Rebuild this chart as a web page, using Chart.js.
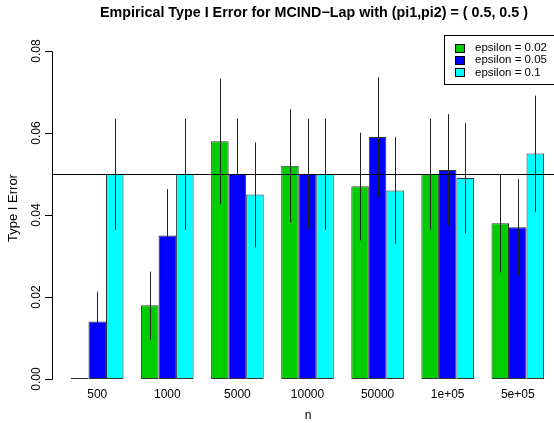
<!DOCTYPE html>
<html>
<head>
<meta charset="utf-8">
<script src="https://cdn.jsdelivr.net/npm/chart.js@4.4.1/dist/chart.umd.min.js"></script>
<style>
  html, body { margin: 0; padding: 0; background: #fff; }
  #wrap { width: 554px; height: 423px; position: relative; }
</style>
</head>
<body>
<div id="wrap"><canvas id="bars"></canvas></div>
<script>
const categories = ["500", "1000", "5000", "10000", "50000", "1e+05", "5e+05"];
const seriesNames = ["epsilon = 0.02", "epsilon = 0.05", "epsilon = 0.1"];

// estimated type I error per sample size
const eps002 = [0.000, 0.018, 0.058, 0.052, 0.047, 0.050, 0.038];
const eps005 = [0.014, 0.035, 0.050, 0.050, 0.059, 0.051, 0.037];
const eps01  = [0.050, 0.050, 0.045, 0.050, 0.046, 0.049, 0.055];

// confidence interval ends
const low002 = [0.000, 0.0096, 0.0427, 0.0382, 0.0338, 0.0364, 0.0260];
const up002  = [0.000, 0.0262, 0.0733, 0.0658, 0.0601, 0.0635, 0.0500];
const low005 = [0.0067, 0.0235, 0.0364, 0.0364, 0.0443, 0.0374, 0.0252];
const up005  = [0.0213, 0.0463, 0.0635, 0.0635, 0.0736, 0.0646, 0.0487];
const low01  = [0.0364, 0.0364, 0.0321, 0.0364, 0.0329, 0.0355, 0.0407];
const up01   = [0.0635, 0.0635, 0.0577, 0.0635, 0.0590, 0.0624, 0.0691];

const nominal = 0.05;
const yTicks = [0, 0.02, 0.04, 0.06, 0.08];
const yTickLabels = ["0.00", "0.02", "0.04", "0.06", "0.08"];

const colors = ["#00cd00", "#0000ff", "#00ffff"];
const lows = [low002, low005, low01];
const ups = [up002, up005, up01];

const FONT = "'Liberation Sans', Arial, Helvetica, sans-serif";

// R-style axes, title, error bars, reference line and legend
const baseGraphics = {
  id: "baseGraphics",
  afterDatasetsDraw(chart) {
    const { ctx, scales: { y } } = chart;

    // error bars
    ctx.save();
    ctx.strokeStyle = "#222";
    ctx.lineWidth = 1;
    chart.data.datasets.forEach((ds, di) => {
      const meta = chart.getDatasetMeta(di);
      meta.data.forEach((bar, i) => {
        const lo = lows[di][i], hi = ups[di][i];
        if (hi - lo <= 0) return;
        const x = Math.round(bar.x) + 0.5;
        ctx.beginPath();
        ctx.moveTo(x, y.getPixelForValue(lo));
        ctx.lineTo(x, y.getPixelForValue(hi));
        ctx.stroke();
      });
    });

    // nominal level
    const yl = Math.round(y.getPixelForValue(nominal)) + 0.5;
    ctx.strokeStyle = "#000";
    ctx.beginPath();
    ctx.moveTo(52, yl);
    ctx.lineTo(chart.width, yl);
    ctx.stroke();
    ctx.restore();
  },
  afterDraw(chart) {
    const { ctx, scales: { x, y } } = chart;
    ctx.save();
    ctx.fillStyle = "#000";
    ctx.strokeStyle = "#000";
    ctx.lineWidth = 1;

    // y axis
    const ax = 52.5;
    ctx.beginPath();
    ctx.moveTo(ax, Math.round(y.getPixelForValue(yTicks[0])) + 0.5);
    ctx.lineTo(ax, Math.round(y.getPixelForValue(yTicks[yTicks.length - 1])) + 0.5);
    yTicks.forEach(v => {
      const py = Math.round(y.getPixelForValue(v)) + 0.5;
      ctx.moveTo(ax, py);
      ctx.lineTo(45, py);
    });
    ctx.stroke();

    ctx.font = "12px " + FONT;
    ctx.textAlign = "center";
    ctx.textBaseline = "middle";
    yTicks.forEach((v, i) => {
      ctx.save();
      ctx.translate(37, y.getPixelForValue(v));
      ctx.rotate(-Math.PI / 2);
      ctx.fillText(yTickLabels[i], 0, 0);
      ctx.restore();
    });
    ctx.save();
    ctx.font = "13px " + FONT;
    ctx.translate(13, 208);
    ctx.rotate(-Math.PI / 2);
    ctx.fillText("Type I Error", 0, 0);
    ctx.restore();

    // category labels and x title
    ctx.font = "12px " + FONT;
    categories.forEach((c, i) => {
      ctx.fillText(c, x.getPixelForValue(i), 395);
    });
    ctx.fillText("n", 308, 416);

    // main title
    ctx.font = "bold 14.3px " + FONT;
    ctx.fillText("Empirical Type I Error for MCIND\u2212Lap with (pi1,pi2) = ( 0.5, 0.5 )", 314, 13);

    // legend
    const lx = 444.5, ly = 35.5, lw = 120, lh = 49;
    ctx.fillStyle = "#fff";
    ctx.fillRect(lx, ly, lw, lh);
    ctx.strokeRect(lx, ly, lw, lh);
    ctx.font = "11.5px " + FONT;
    ctx.textAlign = "left";
    chart.data.datasets.forEach((ds, i) => {
      const ry = 48 + i * 12.2;
      ctx.fillStyle = ds.backgroundColor;
      ctx.fillRect(455.5, Math.round(ry - 4) + 0.5, 9, 8);
      ctx.strokeRect(455.5, Math.round(ry - 4) + 0.5, 9, 8);
      ctx.fillStyle = "#000";
      ctx.fillText(ds.label, 475, ry);
    });
    ctx.restore();
  }
};

const datasets = [eps002, eps005, eps01].map((vals, i) => ({
  label: seriesNames[i],
  data: vals,
  backgroundColor: colors[i],
  borderColor: "#333",
  borderWidth: 1,
  borderSkipped: false,
  minBarLength: 1,
  barPercentage: 1.0,
  categoryPercentage: 0.75
}));

new Chart(document.getElementById("bars").getContext("2d"), {
  type: "bar",
  data: { labels: categories, datasets: datasets },
  options: {
    responsive: true,
    maintainAspectRatio: false,
    animation: false,
    devicePixelRatio: 1,
    layout: { padding: { left: 62.2, right: 1.2, top: 51, bottom: 44 } },
    plugins: { legend: { display: false }, tooltip: { enabled: false }, title: { display: false } },
    scales: {
      x: { display: false, offset: true },
      y: { display: false, min: 0, max: 0.08 }
    }
  },
  plugins: [baseGraphics]
});
</script>
</body>
</html>
